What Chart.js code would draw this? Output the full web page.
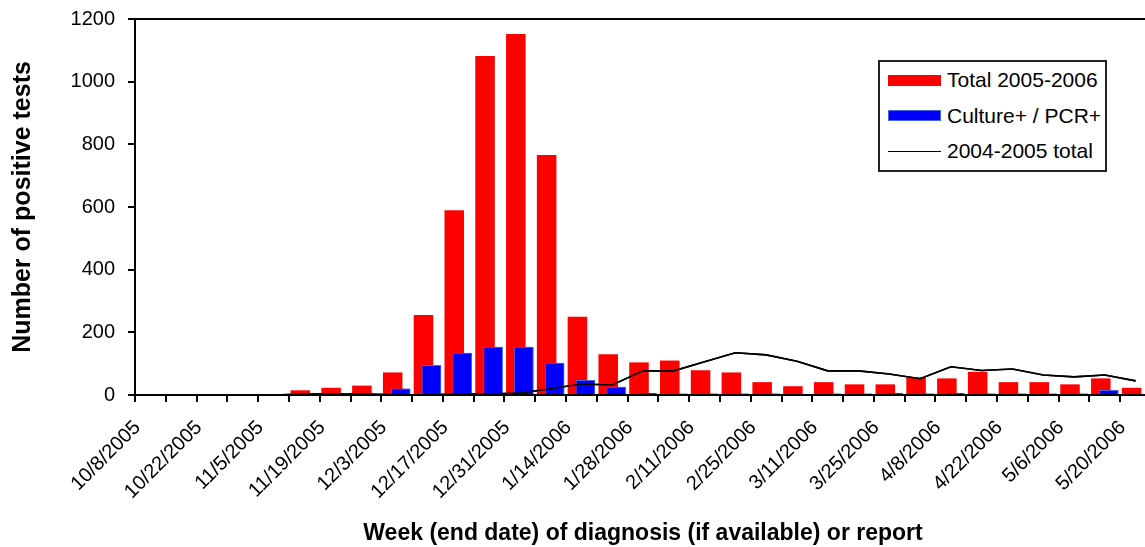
<!DOCTYPE html>
<html>
<head>
<meta charset="utf-8">
<script src="https://cdn.jsdelivr.net/npm/chart.js@4/dist/chart.umd.min.js"></script>
<style>
  body { margin: 0; background: #fff; overflow: hidden; }
  #wrap { position: relative; width: 1160px; height: 547px; }
  #legend {
    position: absolute; left: 878px; top: 60px; width: 225px; height: 108px;
    border: 2px solid #222; background: #fff;
    font-family: "Liberation Sans", Arial, sans-serif; font-size: 21px; color: #000;
  }
  .item { position: absolute; left: 8px; height: 20px; display: flex; align-items: center; }
  .sw { width: 53px; height: 11px; margin-right: 6px; box-sizing: border-box; }
  .ln { width: 53px; height: 0; border-top: 1.5px solid #000; margin-right: 6px; }
</style>
</head>
<body>
<div id="wrap">
  <canvas id="chart" width="1160" height="547"></canvas>
  <div id="legend"></div>
</div>
<script>
// week end dates, one per category
const weeks = [
    "10/8/2005", "10/15/2005", "10/22/2005", "10/29/2005", "11/5/2005", "11/12/2005",
    "11/19/2005", "11/26/2005", "12/3/2005", "12/10/2005", "12/17/2005", "12/24/2005",
    "12/31/2005", "1/7/2006", "1/14/2006", "1/21/2006", "1/28/2006", "2/4/2006",
    "2/11/2006", "2/18/2006", "2/25/2006", "3/4/2006", "3/11/2006", "3/18/2006",
    "3/25/2006", "4/1/2006", "4/8/2006", "4/15/2006", "4/22/2006", "4/29/2006",
    "5/6/2006", "5/13/2006", "5/20/2006"
];

const total0506 = [0, 0, 0, 0, 0, 15, 23, 30, 72, 255, 590, 1082, 1152, 766, 250, 130, 104,
    110, 79, 72, 41, 28, 41, 34, 34, 56, 53, 74, 41, 41, 34, 53, 23];

const culturePcr = [0, 0, 0, 0, 0, 0, 0, 0, 21, 96, 135, 154, 154, 103, 48, 26, 6,
    5, 5, 5, 5, 3, 5, 5, 6, 5, 6, 5, 5, 5, 5, 16, 0];

const total0405 = [0, 0, 0, 0, 0, 3, 3, 3, 1, 1, 3, 3, 6, 20, 35, 32, 77,
    77, 106, 135, 128, 108, 77, 77, 67, 52, 90, 78, 83, 64, 58, 64, 45];

const yTicks = [0, 200, 400, 600, 800, 1000, 1200];

const FONT = '"Liberation Sans", Arial, sans-serif';
Chart.defaults.font.family = FONT;
Chart.defaults.color = '#000';

// blue bars and the line sit on top of the red bars
const onTop = {
    id: 'onTop',
    afterDatasetsDraw(chart) {
        chart.getDatasetMeta(1).controller.draw();
        chart.getDatasetMeta(2).controller.draw();
    },
    afterDraw(chart) {
        const a = chart.chartArea;
        const ctx = chart.ctx;
        ctx.save();
        ctx.strokeStyle = '#000';
        ctx.lineWidth = 2;
        ctx.strokeRect(a.left, a.top, a.right - a.left, a.bottom - a.top);
        ctx.restore();
    }
};

const chart = new Chart(document.getElementById('chart'), {
    type: 'bar',
    data: {
        labels: weeks,
        datasets: [
            { label: 'Total 2005-2006', data: total0506, backgroundColor: '#ff0000',
              categoryPercentage: 0.52, barPercentage: 2.44 },
            { label: 'Culture+ / PCR+', data: culturePcr, backgroundColor: '#0000ff',
              borderColor: '#4466dd', borderWidth: 1,
              categoryPercentage: 0.52, barPercentage: 2.44 },
            { type: 'line', label: '2004-2005 total', data: total0405, borderColor: '#000',
              borderWidth: 1.6, pointRadius: 0, tension: 0, fill: false }
        ]
    },
    options: {
        responsive: false,
        animation: false,
        layout: { padding: { left: 0, top: 19, right: 9, bottom: 0 } },
        plugins: { legend: { display: false }, tooltip: { enabled: false } },
        scales: {
            x: {
                grid: { drawOnChartArea: false, drawTicks: true, tickLength: 7, color: '#000', lineWidth: 2, offset: true },
                border: { color: '#000', width: 2 },
                ticks: {
                    autoSkip: false, maxRotation: 45, minRotation: 45,
                    font: { size: 20 }, padding: 14, labelOffset: -13,
                    callback: (v, i) => i % 2 === 0 ? weeks[i] : ''
                },
                title: { display: true, text: 'Week (end date) of diagnosis (if available) or report',
                         font: { size: 23, weight: 'bold' }, padding: { top: 0, bottom: 0 } },
                afterFit: s => { s.height = 152; s.paddingLeft = 0; s.paddingRight = 0; }
            },
            y: {
                min: 0, max: 1200,
                afterBuildTicks: s => { s.ticks = yTicks.map(v => ({ value: v })); },
                grid: { drawOnChartArea: false, drawTicks: true, tickLength: 7, color: '#000', lineWidth: 2 },
                border: { color: '#000', width: 2 },
                ticks: { font: { size: 20 }, padding: 13, callback: v => String(v) },
                title: { display: true, text: 'Number of positive tests',
                         font: { size: 25, weight: 'bold' }, padding: { top: 8, bottom: 0 } },
                afterFit: s => { s.width = 135; s.paddingTop = 0; s.paddingBottom = 0; }
            }
        }
    },
    plugins: [onTop]
});

// legend box built from the datasets
const legend = document.getElementById('legend');
chart.data.datasets.forEach((ds, i) => {
    const row = document.createElement('div');
    row.className = 'item';
    row.style.top = (8 + i * 35.5) + 'px';
    const mark = document.createElement('span');
    if (ds.type === 'line') {
        mark.className = 'ln';
    } else {
        mark.className = 'sw';
        mark.style.background = ds.backgroundColor;
        if (ds.borderColor) mark.style.border = '1px solid ' + ds.borderColor;
    }
    row.appendChild(mark);
    row.appendChild(document.createTextNode(ds.label));
    legend.appendChild(row);
});
</script>
</body>
</html>
